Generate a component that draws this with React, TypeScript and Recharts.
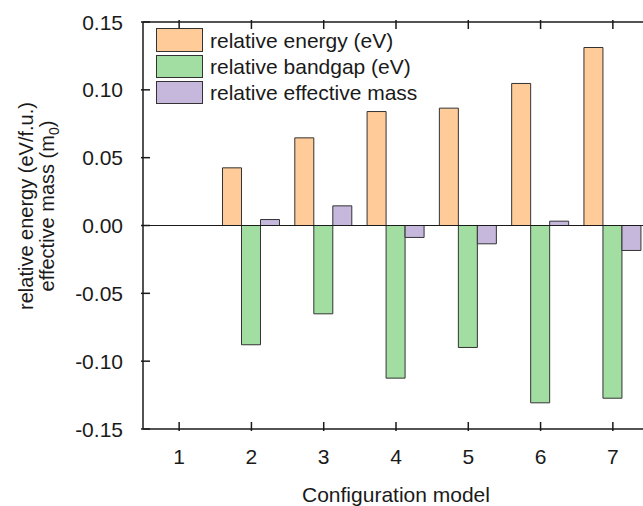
import { BarChart, Bar, XAxis, YAxis, ReferenceLine, Legend } from "recharts";

const categories = ["1", "2", "3", "4", "5", "6", "7"];
const relativeEnergy = [0, 0.0425, 0.0646, 0.084, 0.0865, 0.1047, 0.1312];
const relativeBandgap = [0, -0.0879, -0.0651, -0.1125, -0.0899, -0.1307, -0.1273];
const relativeMass = [0, 0.0044, 0.0145, -0.0088, -0.0135, 0.0032, -0.0184];
const seriesNames = ["relative energy (eV)", "relative bandgap (eV)", "relative effective mass"];
const yTicks = [-0.15, -0.1, -0.05, 0, 0.05, 0.1, 0.15];

const FONT = '"Liberation Sans", Arial, sans-serif';
const INK = "#1a1a1a";

const chartData = categories.map((c, i) => ({
    name: c,
    energy: relativeEnergy[i],
    bandgap: relativeBandgap[i],
    mass: relativeMass[i],
}));

const BottomTick = (props: any) => {
    const { x, y, payload } = props;
    return (
        <g>
            <line x1={x} x2={x} y1={y} y2={y - 9} stroke={INK} strokeWidth={1.5} />
            <text x={x} y={y + 33} textAnchor="middle" fontSize={21} fill={INK} fontFamily={FONT}>
                {payload.value}
            </text>
        </g>
    );
};

const TopTick = (props: any) => {
    const { x, y } = props;
    return <line x1={x} x2={x} y1={y} y2={y + 9} stroke={INK} strokeWidth={1.5} />;
};

const LeftTick = (props: any) => {
    const { x, y, payload } = props;
    return (
        <g>
            <line x1={x} x2={x + 9} y1={y} y2={y} stroke={INK} strokeWidth={1.5} />
            <text x={x - 18} y={y} dy="0.36em" textAnchor="end" fontSize={21} fill={INK} fontFamily={FONT}>
                {payload.value.toFixed(2)}
            </text>
        </g>
    );
};

const YLabel = () => {
    const cy = 206;
    return (
        <g fontFamily={FONT} fontSize={20} fill={INK}>
            <text x={33} y={cy} textAnchor="middle" transform={`rotate(-90 33 ${cy})`}>
                relative energy (eV/f.u.)
            </text>
            <text x={54} y={cy} textAnchor="middle" transform={`rotate(-90 54 ${cy})`}>
                effective mass (m<tspan fontSize={14} dy={5}>0</tspan>
                <tspan dy={-5}>)</tspan>
            </text>
        </g>
    );
};

const LegendBox = ({ payload }: any) => {
    const items = [...(payload || [])].sort(
        (a: any, b: any) => seriesNames.indexOf(a.value) - seriesNames.indexOf(b.value)
    );
    return (
        <div style={{ fontFamily: FONT, fontSize: 21, color: INK }}>
            {items.map((entry: any) => (
                <div key={entry.value} style={{ display: "flex", alignItems: "center", height: 26.3 }}>
                    <div
                        style={{
                            width: 45,
                            height: 21.5,
                            background: entry.color,
                            border: "1px solid #333",
                        }}
                    />
                    <span style={{ marginLeft: 7, lineHeight: 1 }}>{entry.value}</span>
                </div>
            ))}
        </div>
    );
};

export default function App() {
    return (
        <div style={{ position: "fixed", left: 0, top: 0, width: 643, height: 506, overflow: "hidden", background: "#fff" }}>
            <BarChart
                width={670}
                height={506}
                data={chartData}
                margin={{ top: 0, right: 21, left: 0, bottom: 0 }}
                barCategoryGap="10%"
                barGap={0}
            >
                <XAxis
                    dataKey="name"
                    height={77}
                    tickSize={0}
                    tickLine={false}
                    tick={BottomTick}
                    axisLine={{ stroke: INK, strokeWidth: 1.5 }}
                    label={{ value: "Configuration model", position: "insideBottom", offset: 4, fontSize: 21, fill: INK, fontFamily: FONT }}
                />
                <XAxis
                    xAxisId="top"
                    dataKey="name"
                    orientation="top"
                    height={22}
                    tickSize={0}
                    tickLine={false}
                    tick={TopTick}
                    axisLine={{ stroke: INK, strokeWidth: 1.5 }}
                />
                <YAxis
                    width={143}
                    domain={[-0.15, 0.15]}
                    ticks={yTicks}
                    interval={0}
                    tickSize={0}
                    tickLine={false}
                    tick={LeftTick}
                    axisLine={{ stroke: INK, strokeWidth: 1.5 }}
                    label={<YLabel />}
                />
                <ReferenceLine y={0} stroke={INK} strokeWidth={1.2} />
                <Legend
                    layout="vertical"
                    align="center"
                    verticalAlign="middle"
                    content={LegendBox}
                    wrapperStyle={{ left: 156, top: 27, width: "auto" }}
                />
                <Bar dataKey="energy" name={seriesNames[0]} fill="#FFCC99" stroke="#333" strokeWidth={1} isAnimationActive={false} />
                <Bar dataKey="bandgap" name={seriesNames[1]} fill="#A2DDA2" stroke="#333" strokeWidth={1} isAnimationActive={false} />
                <Bar dataKey="mass" name={seriesNames[2]} fill="#C6B7DD" stroke="#333" strokeWidth={1} isAnimationActive={false} />
            </BarChart>
        </div>
    );
}
